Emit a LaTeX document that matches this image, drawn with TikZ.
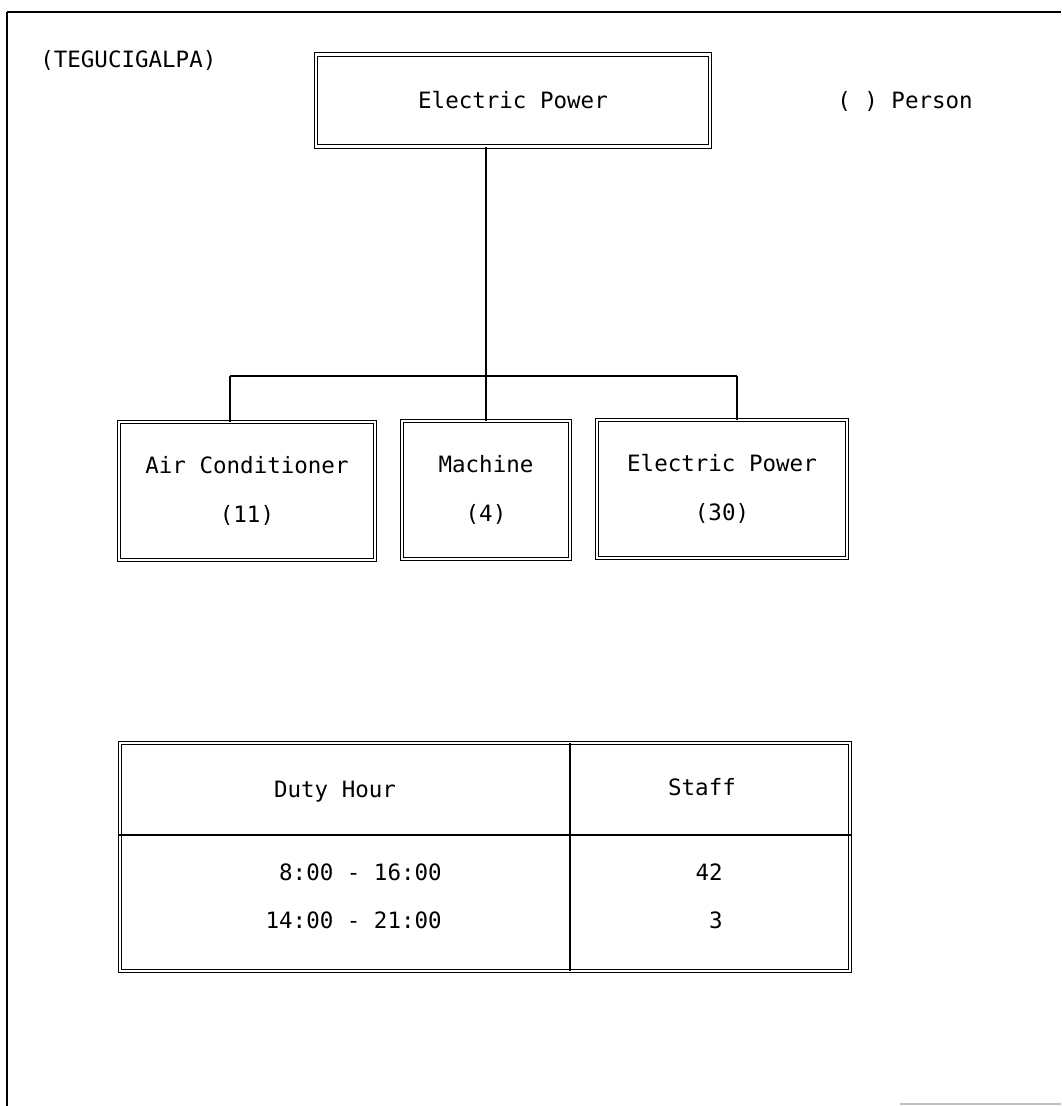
\documentclass[tikz,border=0pt]{standalone}
\usepackage{fontspec}
\setmonofont{DejaVu Sans Mono}
\usepackage{tikz}
\usetikzlibrary{positioning}
\tikzset{
    unitbox/.style={rectangle, draw=black, double, double distance=1.7pt, line width=0.6pt, inner sep=0pt, minimum width=#1, minimum height=3.45cm, align=center, font=\ttfamily\fontsize{16}{34.5}\selectfont},
    headbox/.style={rectangle, draw=black, double, double distance=1.7pt, line width=0.6pt, inner sep=0pt, minimum width=9.85cm, minimum height=2.3cm, font=\ttfamily\fontsize{16}{19}\selectfont},
    tablebox/.style={rectangle, draw=black, double, double distance=1.7pt, line width=0.6pt, inner sep=0pt, minimum width=18.25cm, minimum height=5.7cm},
    note/.style={inner sep=0pt, font=\ttfamily\fontsize{16}{19}\selectfont},
    link/.style={draw=black, line width=0.8pt}
}

\begin{document}
\begin{tikzpicture}[x=0.025cm, y=-0.025cm]
            % Page size and frame
            \useasboundingbox (0,0) rectangle (1061,1106);
            \draw[line width=2pt] (7,1106) -- (7,12);
            \draw[line width=1pt] (7,12) -- (1061,12);
            \draw[gray!50, line width=1pt] (900,1104) -- (1061,1104);

            % Titles
            \node[note, anchor=base west] (city) at (40,67) {(TEGUCIGALPA)};
            \node[note, anchor=base west] (legend) at (837,108) {( ) Person};

            % Organisation
            \node[headbox] (top) at (513,100.5) {Electric Power};
            \node[unitbox=6.4cm] (air) at (247,491) {Air Conditioner\\(11)};
            \node[unitbox=4.2cm] (mach) at (486,490) {Machine\\(4)};
            \node[unitbox=6.25cm] (elec) at (722,489) {Electric Power\\(30)};

            % Connectors
            \coordinate (barL) at (230,376);
            \coordinate (barR) at (737,376);
            \draw[link] (mach.north |- top.south) -- (mach.north);
            \draw[link] (barL) -- (barR);
            \draw[link] (barL) -- (barL |- air.north);
            \draw[link] (barR) -- (barR |- elec.north);

            % Duty table
            \node[tablebox] (duty) at (485,857) {};
            \draw[line width=0.8pt] (duty.west |- 0,835) -- (duty.east |- 0,835);
            \draw[line width=0.8pt] (duty.north -| 570,0) -- (duty.south -| 570,0);
            \node[note, anchor=base] (hourhead) at (335,797) {Duty Hour};
            \node[note, anchor=base] (staffhead) at (702,795) {Staff};
            \node[note, anchor=base east] (hourA) at (442,880) {8:00 - 16:00};
            \node[note, anchor=base east] (hourB) at (442,928) {14:00 - 21:00};
            \node[note, anchor=base east] (staffA) at (723,880) {42};
            \node[note, anchor=base east] (staffB) at (723,928) {3};

        \end{tikzpicture}
\end{document}
